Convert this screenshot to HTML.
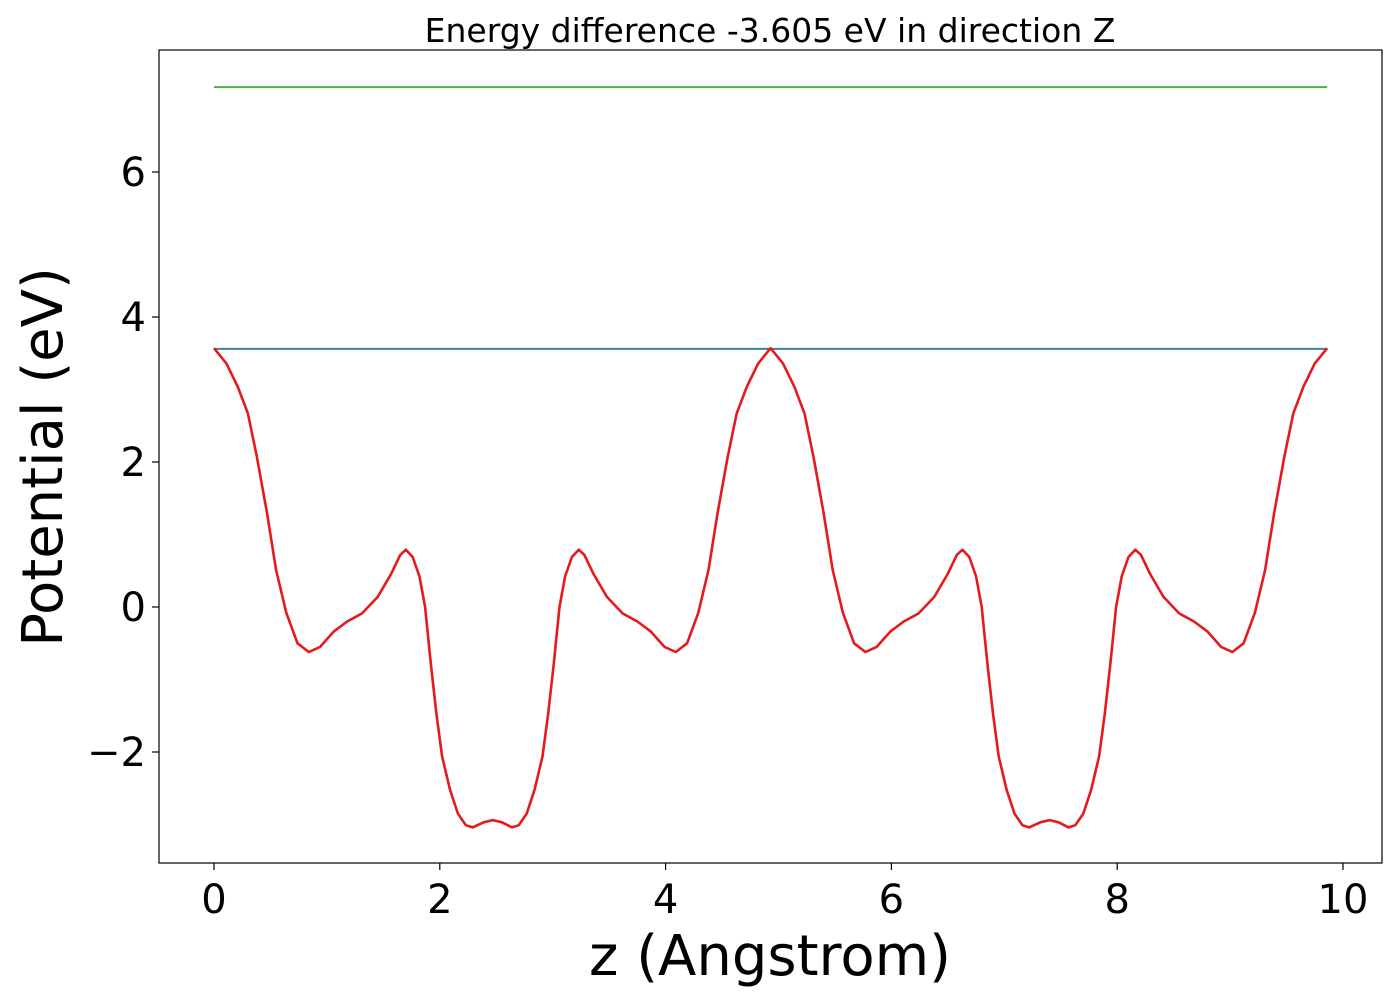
<!DOCTYPE html>
<html><head><meta charset="utf-8"><style>
body{margin:0;background:#fff}
svg{display:block;font-family:"DejaVu Sans","Liberation Sans",sans-serif}
</style></head><body>
<svg id="chart" width="1400" height="1000">
<rect x="0" y="0" width="1400" height="1000" fill="#fff"/>
<text x="770" y="42" text-anchor="middle" font-size="33">Energy difference -3.605 eV in direction Z</text>
<g id="plot"></g>
<rect x="159" y="50" width="1223" height="813" fill="none" stroke="#000" stroke-width="1.2"/>
<text x="770" y="975" text-anchor="middle" font-size="56">z (Angstrom)</text>
<text transform="translate(62,457) rotate(-90)" text-anchor="middle" font-size="56">Potential (eV)</text>
</svg>
<script>
const xTicks=[0,2,4,6,8,10];
const yTicks=[-2,0,2,4,6];
const vacuumLevel=7.17;
const fermiLevel=3.56;
const zValues=[0,0.11,0.21,0.30,0.38,0.47,0.55,0.64,0.74,0.84,0.94,1.06,1.18,1.31,1.45,1.57,1.65,1.70,1.76,1.82,1.87,1.92,1.97,2.02,2.09,2.16,2.23,2.29,2.39,2.47,
2.55,2.64,2.70,2.77,2.84,2.91,2.96,3.01,3.06,3.11,3.17,3.23,3.28,3.36,3.48,3.62,3.75,3.87,3.99,4.09,4.19,4.29,4.38,4.46,4.55,4.63,4.72,4.82,4.93,
5.04,5.14,5.23,5.31,5.40,5.48,5.57,5.67,5.77,5.87,5.99,6.11,6.24,6.38,6.50,6.58,6.63,6.69,6.75,6.80,6.85,6.90,6.95,7.02,7.09,7.16,7.22,7.32,7.40,
7.48,7.57,7.63,7.70,7.77,7.84,7.89,7.94,7.99,8.04,8.10,8.16,8.21,8.29,8.41,8.55,8.68,8.80,8.92,9.02,9.12,9.22,9.31,9.39,9.48,9.56,9.65,9.75,9.86];
const potential=[3.57,3.36,3.04,2.67,2.07,1.29,0.51,-0.08,-0.50,-0.62,-0.55,-0.34,-0.20,-0.09,0.14,0.46,0.72,0.79,0.69,0.42,0.00,-0.78,-1.47,-2.06,-2.52,-2.85,-3.01,-3.04,-2.97,-2.94,
-2.97,-3.04,-3.01,-2.85,-2.52,-2.06,-1.47,-0.78,0.00,0.42,0.69,0.79,0.72,0.46,0.14,-0.09,-0.20,-0.34,-0.55,-0.62,-0.50,-0.08,0.51,1.29,2.07,2.67,3.04,3.36,3.57,
3.36,3.04,2.67,2.07,1.29,0.51,-0.08,-0.50,-0.62,-0.55,-0.34,-0.20,-0.09,0.14,0.46,0.72,0.79,0.69,0.42,0.00,-0.78,-1.47,-2.06,-2.52,-2.85,-3.01,-3.04,-2.97,
-2.94,-2.97,-3.04,-3.01,-2.85,-2.52,-2.06,-1.47,-0.78,0.00,0.42,0.69,0.79,0.72,0.46,0.14,-0.09,-0.20,-0.34,-0.55,-0.62,-0.50,-0.08,0.51,1.29,2.07,2.67,3.04,3.36,3.57];

const NS='http://www.w3.org/2000/svg';
const g=document.getElementById('plot');
const X=v=>214+(v-0)*112.9;
const Y=v=>607-v*72.5;
function mk(tag,attrs){const e=document.createElementNS(NS,tag);for(const k in attrs)e.setAttribute(k,attrs[k]);g.appendChild(e);return e;}

xTicks.forEach(t=>{
  const l=mk('line',{x1:X(t),x2:X(t),y1:863,y2:870,stroke:'#000','stroke-width':1.2});
  
  
  const tx=mk('text',{x:X(t),y:913,'text-anchor':'middle','font-size':40});
  tx.textContent=t;
  
  
});
yTicks.forEach(t=>{
  const l=mk('line',{x1:152,x2:159,y1:Y(t),y2:Y(t),stroke:'#000','stroke-width':1.2});
  
  
  const tx=mk('text',{x:146,y:Y(t)+14,'text-anchor':'end','font-size':40});
  tx.textContent=t<0?'\u2212'+Math.abs(t):t;
  
  
});
const x0=X(zValues[0]), x1=X(zValues[zValues.length-1]);
const gl=mk('line',{x1:x0,x2:x1,y1:Y(vacuumLevel),y2:Y(vacuumLevel),stroke:'#4daf4a','stroke-width':2});


const bl=mk('line',{x1:x0,x2:x1,y1:Y(fermiLevel),y2:Y(fermiLevel),stroke:'#377eb8','stroke-width':2});


const pts=zValues.map((z,i)=>X(z).toFixed(1)+','+Y(potential[i]).toFixed(1)).join(' ');
const pl=mk('polyline',{points:pts,fill:'none',stroke:'#e41a1c','stroke-width':2.6,'stroke-linejoin':'round'});


</script>
</body></html>
